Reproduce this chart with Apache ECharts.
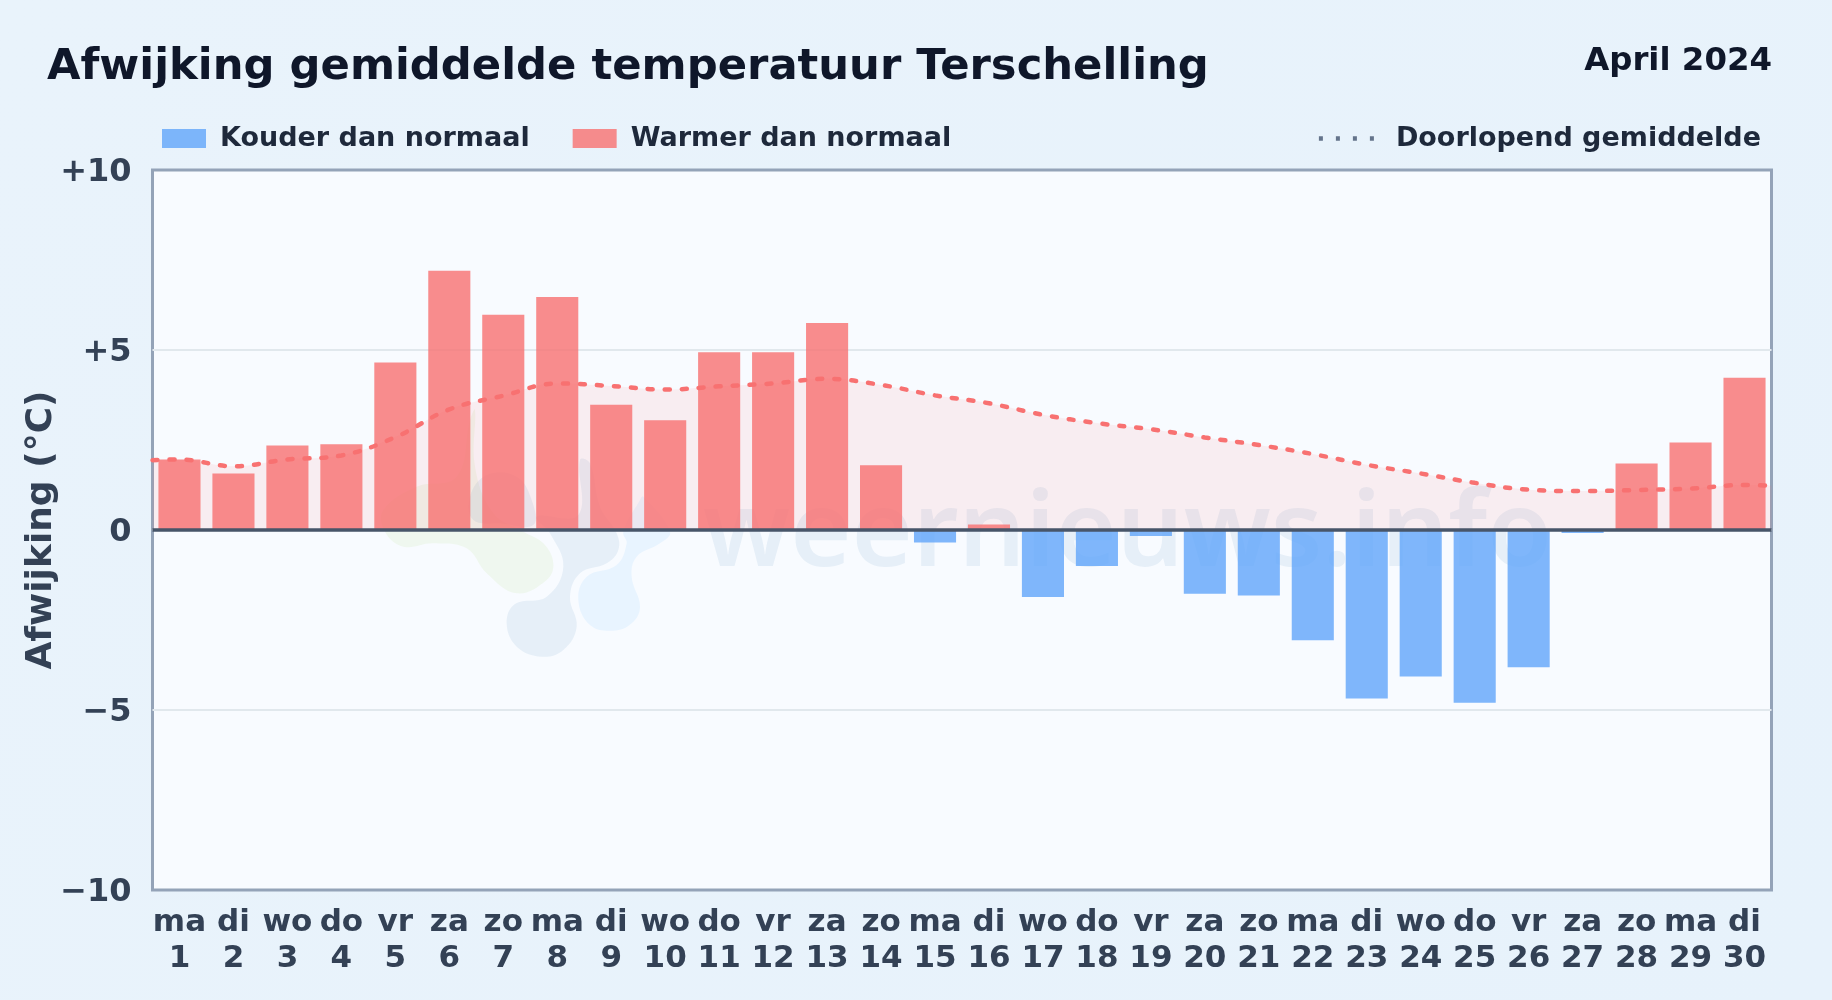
<!DOCTYPE html>
<html><head><meta charset="utf-8">
<style>html,body{margin:0;padding:0;background:#e8f3fc}#c{width:1832px;height:1000px}</style>
<script src="https://cdn.jsdelivr.net/npm/echarts@6/dist/echarts.min.js"></script>
</head><body><div id="c"></div>
<script>
const weekdays = ['ma','di','wo','do','vr','za','zo','ma','di','wo','do','vr','za','zo','ma','di','wo','do','vr','za','zo','ma','di','wo','do','vr','za','zo','ma','di'];
const days = ['1','2','3','4','5','6','7','8','9','10','11','12','13','14','15','16','17','18','19','20','21','22','23','24','25','26','27','28','29','30'];
const warm = [1.96,1.57,2.35,2.38,4.65,7.2,5.98,6.47,3.48,3.05,4.94,4.94,5.75,1.8,null,0.15,null,null,null,null,null,null,null,null,null,null,null,1.85,2.43,4.23];
const cold = [null,null,null,null,null,null,null,null,null,null,null,null,null,null,-0.35,null,-1.86,-1.0,-0.17,-1.77,-1.82,-3.06,-4.68,-4.07,-4.8,-3.81,-0.08,null,null,null];
const lineX = [0.5,1,2,3,4,5,6,7,8,9,10,11,12,13,14,15,16,17,18,19,20,21,22,23,24,25,26,27,28,29,30,30.5];
const lineY = [1.94,1.96,1.77,1.96,2.07,2.58,3.35,3.73,4.07,4.0,3.9,3.99,4.07,4.2,4.03,3.74,3.52,3.2,2.97,2.8,2.57,2.36,2.11,1.81,1.57,1.31,1.12,1.08,1.11,1.15,1.25,1.23];
const yTicks = {'10':'+10','5':'+5','0':'0','-5':'\u22125','-10':'\u221210'};
const FF = '"DejaVu Sans"';
const P = pts => pts.map(([x,y]) => [360+x/3, 400+y/3]);
const blobGreen = P([[75,395],[130,440],[220,430],[320,445],[380,520],[470,580],[560,540],[580,490],[550,430],[490,395],[400,340],[345,200],[345,30],[330,60],[290,230],[170,260],[70,330]]);
const blobDark = P([[440,670],[465,612],[560,590],[610,500],[570,400],[530,350],[655,345],[660,180],[690,190],[720,320],[770,400],[775,450],[740,490],[660,520],[630,590],[650,680],[610,750],[545,770],[470,740]]);
const blobDark2 = P([[330,290],[380,225],[470,230],[515,300],[520,375],[420,370],[340,360]]);
const blobBlue = P([[655,600],[680,530],[770,495],[800,430],[790,395],[840,300],[850,290],[930,395],[900,430],[830,470],[815,530],[840,620],[815,670],[760,692],[690,675]]);
const blob = (points,fill) => ({type:'polygon',z:1,silent:true,shape:{points,smooth:0.4},style:{fill}});

const chart = echarts.init(document.getElementById('c'), null, {renderer:'canvas'});
const tickStyle = {fontFamily:FF,fontWeight:'bold',fontSize:32,color:'#334155'};
chart.setOption({
  animation:false,
  backgroundColor:{type:'linear',x:0,y:0,x2:1,y2:1,colorStops:[{offset:0,color:'#e9f3fb'},{offset:1,color:'#e7f2fb'}]},
  textStyle:{fontFamily:FF},
  title:[
    {text:'Afwijking gemiddelde temperatuur Terschelling',left:42,top:41,textStyle:{fontFamily:FF,fontWeight:'bold',fontSize:43.3,color:'#0f172a'}},
    {text:'April 2024',right:55,top:41,textStyle:{fontFamily:FF,fontWeight:'bold',fontSize:32.4,color:'#0f172a'}}
  ],
  legend:[
    {left:157,top:120,itemWidth:44,itemHeight:19,itemGap:43,selectedMode:false,icon:'rect',
     data:['Kouder dan normaal','Warmer dan normaal'],
     textStyle:{fontFamily:FF,fontWeight:'bold',fontSize:27,color:'#1e293b',padding:[0,0,0,9]}},
    {right:66,top:120,itemWidth:56,itemHeight:19,selectedMode:false,
     data:[{name:'Doorlopend gemiddelde',itemStyle:{color:'transparent',opacity:0},lineStyle:{color:'#64748b',width:4.5,type:[4,13],cap:'butt',opacity:1}}],
     textStyle:{fontFamily:FF,fontWeight:'bold',fontSize:27,color:'#1e293b',padding:[0,0,0,16]}}
  ],
  grid:{left:152.5,right:60.5,top:170,height:720,show:true,backgroundColor:'#f8fbff',borderColor:'#94a3b8',borderWidth:3},
  xAxis:[
    {type:'category',data:weekdays.map((w,i)=>w+'\n'+days[i]),boundaryGap:true,
     axisLine:{show:false,onZero:false},axisTick:{show:false},splitLine:{show:false},
     axisLabel:{interval:0,margin:15,lineHeight:36,fontFamily:FF,fontWeight:'bold',fontSize:31,color:'#334155'}},
    {type:'value',min:0.5,max:30.5,show:false}
  ],
  yAxis:{type:'value',min:-10,max:10,interval:5,
     name:'Afwijking (\u00b0C)',nameLocation:'middle',nameGap:93,nameMoveOverlap:false,
     nameTextStyle:{fontFamily:FF,fontWeight:'bold',fontSize:36,color:'#334155'},
     axisLine:{show:false},axisTick:{show:false},
     splitLine:{show:true,showMinLine:false,showMaxLine:false,lineStyle:{color:'#e1e8ed',width:2}},
     axisLabel:{margin:21,fontFamily:FF,fontWeight:'bold',fontSize:32,color:'#334155',
       formatter:v=>'{s| }\n{a|'+yTicks[String(v)]+'}',
       rich:{s:{fontSize:4,lineHeight:6,...{fontFamily:FF}},a:{...tickStyle,lineHeight:38}}}},
  graphic:[
    blob(blobGreen,'rgba(132,204,22,0.07)'),
    blob(blobDark,'rgba(30,100,170,0.08)'),
    blob(blobDark2,'rgba(30,100,170,0.08)'),
    blob(blobBlue,'rgba(56,160,250,0.08)'),
    {type:'text',z:1,silent:true,left:703,top:484,style:{text:'weernieuws.info',fontFamily:'"Noto Sans"',fontWeight:600,fontSize:105,fill:'rgba(30,100,170,0.08)'}}
  ],
  series:[
    {name:'Kouder dan normaal',type:'bar',data:cold,barWidth:'78%',barGap:'-100%',itemStyle:{color:'rgba(96,165,250,0.8)'},z:2,emphasis:{disabled:true}},
    {name:'Warmer dan normaal',type:'bar',data:warm,barWidth:'78%',barGap:'-100%',itemStyle:{color:'rgba(248,113,113,0.8)'},z:2,emphasis:{disabled:true}},
    {name:'Doorlopend gemiddelde',type:'line',xAxisIndex:1,data:lineX.map((x,i)=>[x,lineY[i]]),smooth:0.4,symbol:'none',z:4,
     lineStyle:{color:'#f87171',width:4.5,type:[5,12],cap:'round'},
     areaStyle:{color:'rgba(252,113,113,0.14)',origin:0},
     markLine:{silent:true,symbol:'none',label:{show:false},animation:false,data:[{yAxis:0}],lineStyle:{color:'#475569',width:3.5,type:'solid'}}}
  ]
});
</script></body></html>
